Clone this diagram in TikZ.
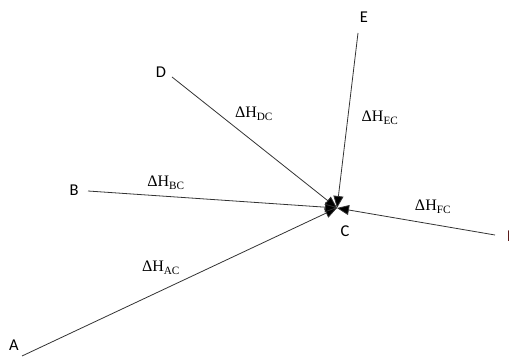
\documentclass[tikz,border=0pt]{standalone}
\usepackage{fontspec}
\setmainfont{Carlito}
\newfontfamily\dhfont{Liberation Serif}
\usetikzlibrary{arrows.meta}
\begin{document}
\begin{tikzpicture}[x=1pt,y=-1pt,
  pt/.style={font=\fontsize{16.5}{18}\selectfont, inner sep=0pt},
  dh/.style={font=\dhfont\fontsize{16}{18}\selectfont, inner sep=0pt},
  arr/.style={draw=black!80, line width=0.8pt, -{Triangle[length=12pt,width=10pt,fill=black]}}]
\useasboundingbox (0,0) rectangle (509,358);
\coordinate (c0) at (337,208);
\node[pt] (A) at (14,345) {A};
\node[pt] (B) at (74,190) {B};
\node[pt] (D) at (161,72) {D};
\node[pt] (E) at (364,17) {E};
\node[pt, text=black!60!red!70!black] (F) at (511,236) {F};
\node[pt] (C) at (345,231) {C};
\coordinate (a0) at (22,356);
\coordinate (b0) at (88,191);
\coordinate (d0) at (172,77);
\coordinate (e0) at (358,33);
\coordinate (f0) at (495,235);
\draw[arr] (a0) -- (c0);
\draw[arr] (b0) -- (c0);
\draw[arr] (d0) -- (c0);
\draw[arr] (e0) -- (c0);
\draw[arr] (f0) -- (c0);
\node[dh] (lac) at (161,268) {ΔH\textsubscript{AC}};
\node[dh] (lbc) at (166,183) {ΔH\textsubscript{BC}};
\node[dh] (ldc) at (254,114) {ΔH\textsubscript{DC}};
\node[dh] (lec) at (380,118) {ΔH\textsubscript{EC}};
\node[dh] (lfc) at (433,207) {ΔH\textsubscript{FC}};
\end{tikzpicture}
\end{document}
